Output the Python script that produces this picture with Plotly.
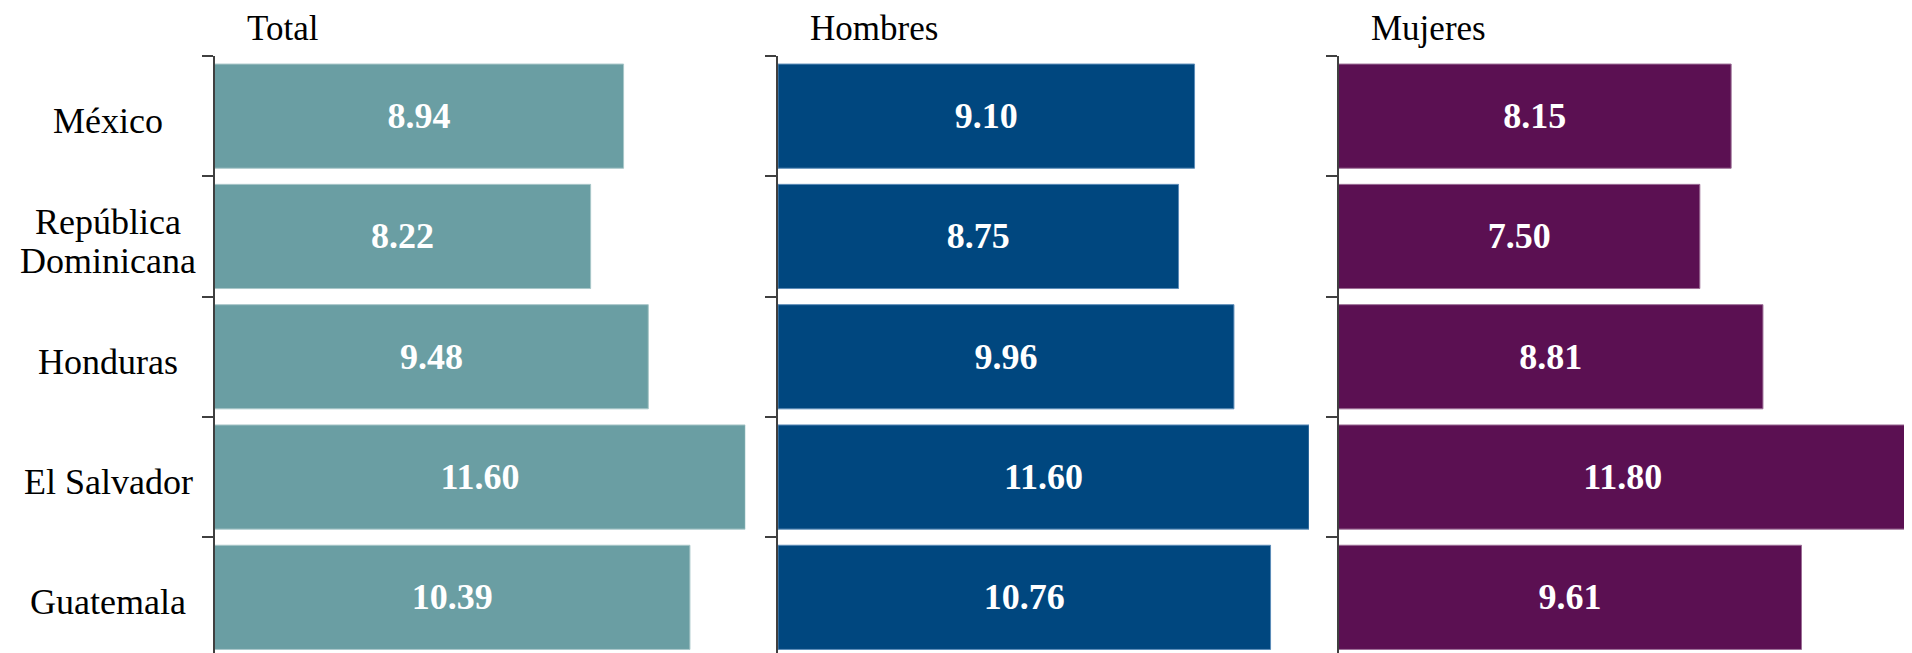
import plotly.graph_objects as go

# ---- data ----
categories = ["México", "República<br>Dominicana", "Honduras", "El Salvador", "Guatemala"]
panel_titles = ["Total", "Hombres", "Mujeres"]
total_values = [8.94, 8.22, 9.48, 11.60, 10.39]
hombres_values = [9.10, 8.75, 9.96, 11.60, 10.76]
mujeres_values = [8.15, 7.50, 8.81, 11.80, 9.61]

# ---- style ----
# figure sits inside the page's default 8px body margin
W, H = 1904, 645
FONT = "Liberation Serif, Times New Roman, serif"
fill_colors = ["#6A9EA3", "#00477F", "#5B1052"]
edge_colors = ["#A9C7C9", "#5C8CB8", "#9C6E96"]
x_domains_px = [(206.5, 737.3), (770.0, 1301.0), (1330.5, 1899.0)]
x_max = [max(total_values), max(hombres_values), max(mujeres_values)]
plot_top_px = 48
band_px = 120.3
axis_color = "#404040"

series = [total_values, hombres_values, mujeres_values]

fig = go.Figure()
layout = dict(
    width=W, height=H,
    margin=dict(l=0, r=0, t=0, b=0),
    paper_bgcolor="white", plot_bgcolor="white",
    showlegend=False,
    font=dict(family=FONT, color="black"),
)

y_span = (H - plot_top_px) / band_px
y_range = [-0.5 + y_span, -0.5]

annotations = []
for i, (vals, title) in enumerate(zip(series, panel_titles)):
    sfx = "" if i == 0 else str(i + 1)
    fig.add_trace(go.Bar(
        x=vals, y=categories, orientation="h",
        xaxis="x" + sfx, yaxis="y" + sfx,
        width=0.866,
        marker=dict(color=fill_colors[i], line=dict(color=edge_colors[i], width=1)),
        texttemplate="<b>%{x:.2f}</b>",
        textposition="inside", insidetextanchor="middle", textangle=0,
        textfont=dict(family=FONT, size=36, color="white"),
        hoverinfo="skip",
    ))
    x0, x1 = x_domains_px[i]
    layout["xaxis" + sfx] = dict(
        domain=[x0 / W, x1 / W], range=[0, x_max[i]],
        showgrid=False, zeroline=False, showline=False,
        showticklabels=False, ticks="", anchor="y" + sfx,
    )
    layout["yaxis" + sfx] = dict(
        domain=[0, 1 - plot_top_px / H],
        type="category", categoryorder="array", categoryarray=categories,
        range=y_range,
        showgrid=False, zeroline=False,
        showline=True, linecolor=axis_color, linewidth=2,
        ticks="outside", tickson="boundaries", ticklen=11,
        tickcolor=axis_color, tickwidth=2,
        showticklabels=False, anchor="x" + sfx,
    )
    annotations.append(dict(
        text=title, xref=("x" + sfx + " domain"), x=0, xanchor="left", xshift=31,
        yref="paper", y=1, yanchor="top", borderpad=0, showarrow=False,
        font=dict(family=FONT, size=35, color="black"),
    ))

# category labels (centered block left of first panel)
for cat in categories:
    lines = cat.split("<br>")
    n = len(lines)
    for j, line in enumerate(lines):
        annotations.append(dict(
            text=line, xref="paper", x=100 / W, xanchor="center",
            yref="y", y=cat, yanchor="middle",
            yshift=-((j - (n - 1) / 2) * 39) - 5,
            showarrow=False,
            font=dict(family=FONT, size=36, color="black"),
        ))

layout["annotations"] = annotations
fig.update_layout(**layout)
fig.write_html("out.html")
